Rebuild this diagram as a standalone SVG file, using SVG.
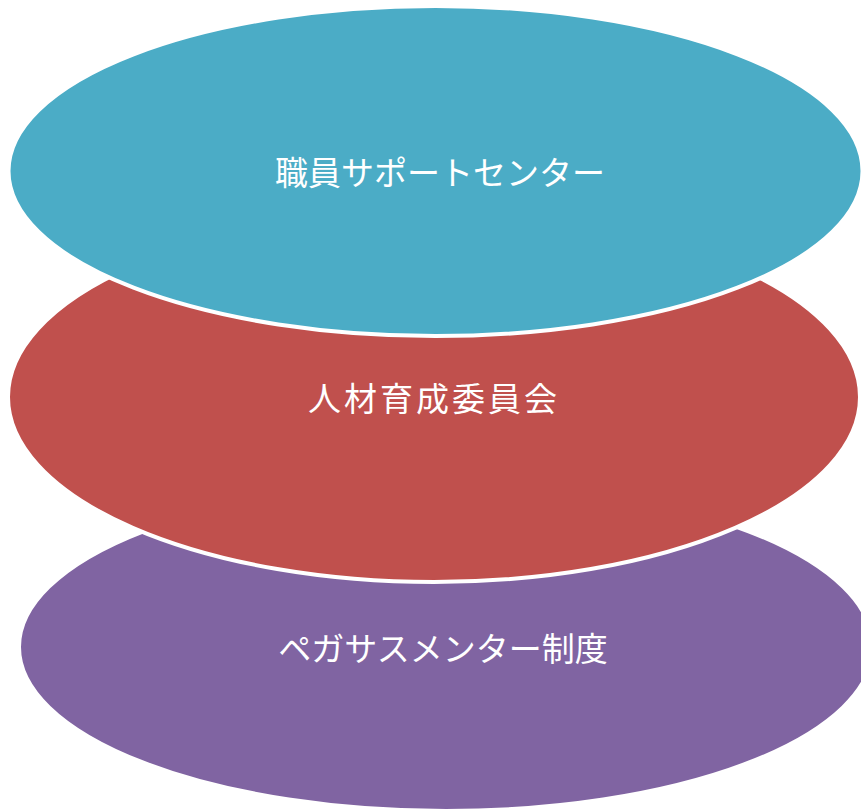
<svg xmlns="http://www.w3.org/2000/svg" width="861" height="809" viewBox="0 0 861 809">
<style>
.shape{stroke:#FFFFFF;stroke-width:4}
.lbl{fill:#FFFFFF;font-family:"Noto Sans CJK JP","Noto Sans",sans-serif;font-size:33px;text-anchor:middle;dominant-baseline:central}
</style>
<rect width="861" height="809" fill="#FFFFFF"/>
<g id="node-pegasus">
<ellipse class="shape" cx="446" cy="647" rx="427" ry="164" fill="#8064A2"/>
<text class="lbl" x="443" y="647">ペガサスメンター制度</text>
</g>
<g id="node-jinzai">
<ellipse class="shape" cx="434" cy="397" rx="426" ry="185" fill="#C0504D"/>
<text class="lbl" x="434" y="397" letter-spacing="3">人材育成委員会</text>
</g>
<g id="node-support">
<ellipse class="shape" cx="435.5" cy="171" rx="427" ry="165" fill="#4BACC6"/>
<text class="lbl" x="440" y="171">職員サポートセンター</text>
</g>
<g id="connectors"></g>
</svg>
